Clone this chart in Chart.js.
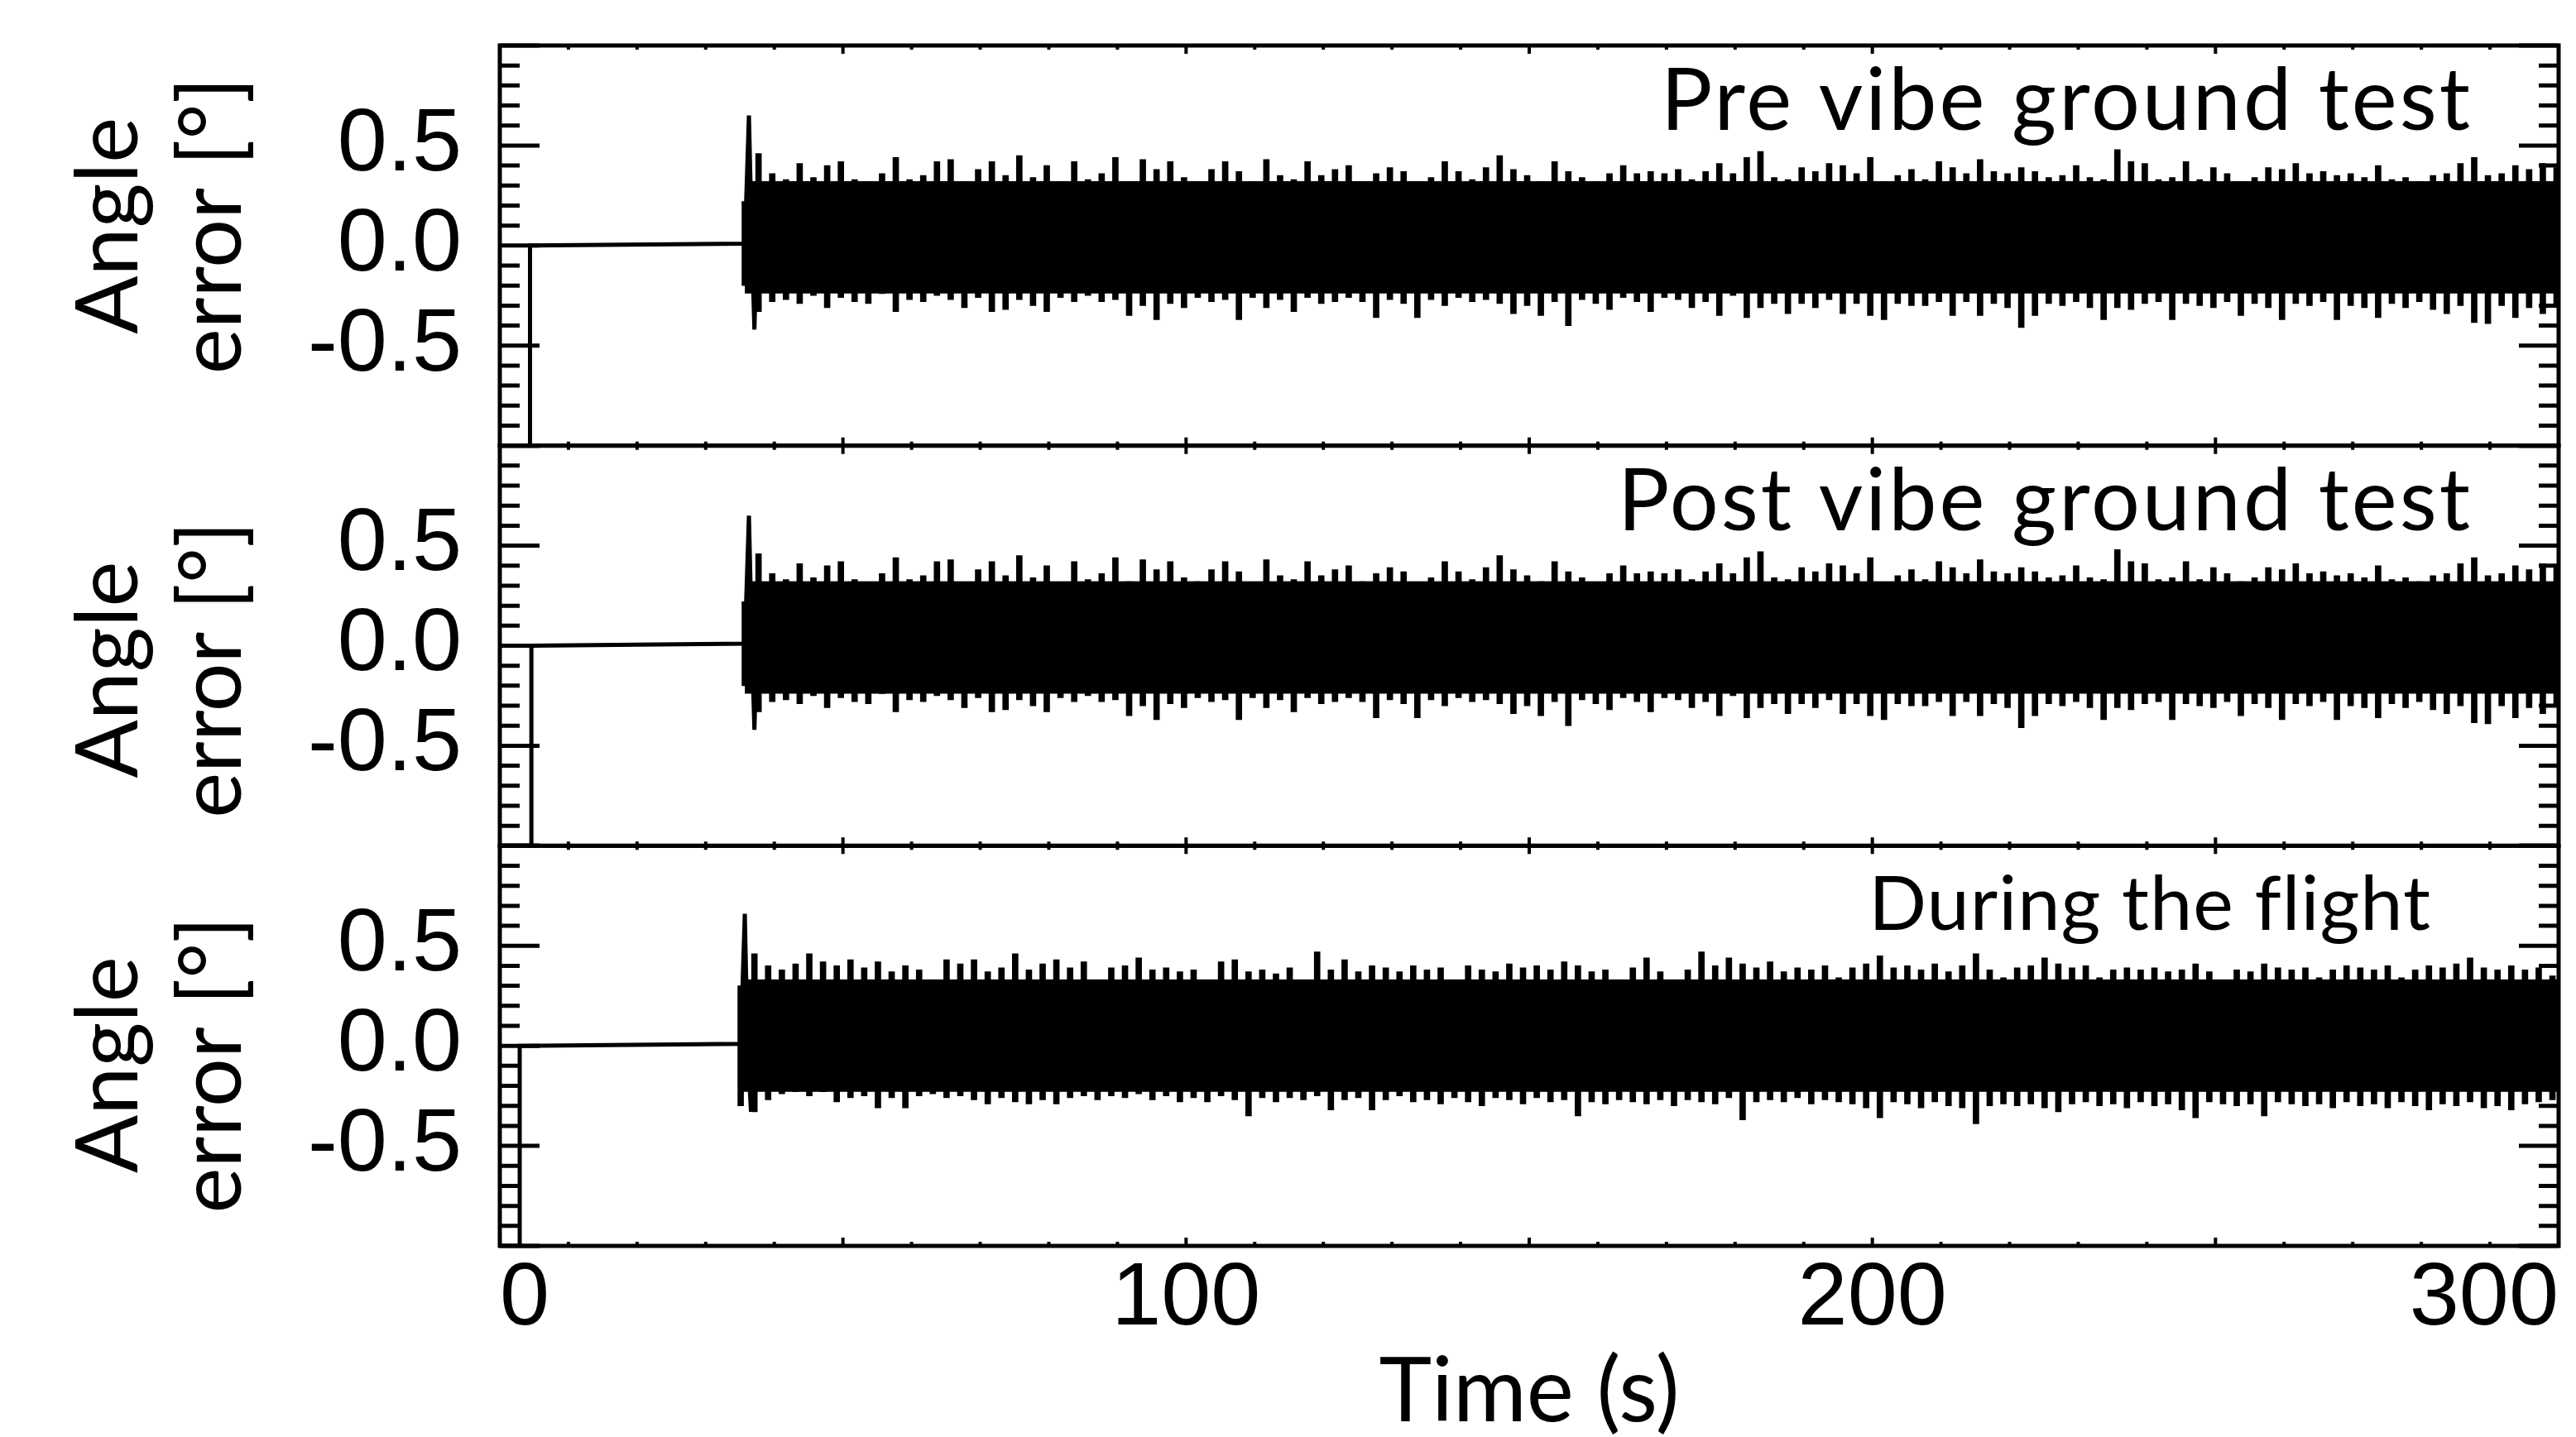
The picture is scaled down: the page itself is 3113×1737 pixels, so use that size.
<!DOCTYPE html>
<html lang="en">
<head>
<meta charset="UTF-8">
<title>Angle error</title>
<script src="https://cdn.jsdelivr.net/npm/chart.js@4.4.1/dist/chart.umd.min.js"></script>
<style>
    body { margin: 0; background: #fff; }
    canvas { display: block; }
</style>
</head>
<body>
<canvas id="angleChart" width="3113" height="1737"></canvas>
<script>
    // ---- data ----
    const panelNames = ['Pre vibe ground test', 'Post vibe ground test', 'During the flight'];
    const xTickLabels = [0, 100, 200, 300];
    const yTickLabels = [-0.5, 0.0, 0.5];
    const yTitleLines = ['Angle', 'error [°]'];

    // reset step, flat part and the first big swing of each run (s, deg)
    const preLineT = [0, 4.4, 4.4, 35.7, 36.3, 36.7, 37.1, 37.5];
    const preLineV = [-1, -1, 0, 0.01, 0.65, 0.05, -0.42, 0.1];
    const postLineT = [0, 4.6, 4.6, 35.7, 36.3, 36.7, 37.1, 37.5];
    const postLineV = [-1, -1, 0, 0.01, 0.65, 0.05, -0.42, 0.1];
    const flightLineT = [0, 2.9, 2.9, 35.1, 35.7, 36.1, 36.6, 37.0];
    const flightLineV = [-1, -1, 0, 0.01, 0.66, 0.0, -0.33, 0.1];

    // solid part of the noise band [low, high]
    const preCore = [-0.24, 0.32];
    const postCore = [-0.24, 0.32];
    const flightCore = [-0.23, 0.33];

    // noise peaks, one max / min per 2 s bin
    const binStep = 2;
    const preStart = 35.7, postStart = 35.7, flightStart = 35.1;

    const preUpper = [
        0.22, 0.46, 0.36, 0.33, 0.41, 0.34, 0.40, 0.42, 0.33, 0.30,
        0.36, 0.44, 0.33, 0.35, 0.42, 0.43, 0.31, 0.38, 0.42, 0.35,
        0.45, 0.34, 0.40, 0.31, 0.42, 0.33, 0.36, 0.44, 0.32, 0.43,
        0.38, 0.42, 0.34, 0.32, 0.38, 0.42, 0.37, 0.30, 0.43, 0.35,
        0.33, 0.42, 0.35, 0.38, 0.40, 0.32, 0.36, 0.39, 0.37, 0.31,
        0.34, 0.42, 0.37, 0.33, 0.39, 0.45, 0.38, 0.35, 0.32, 0.42,
        0.37, 0.34, 0.30, 0.36, 0.40, 0.36, 0.37, 0.36, 0.38, 0.33,
        0.37, 0.41, 0.36, 0.44, 0.47, 0.34, 0.33, 0.39, 0.37, 0.41,
        0.40, 0.36, 0.44, 0.31, 0.35, 0.38, 0.33, 0.42, 0.39, 0.36,
        0.43, 0.37, 0.36, 0.39, 0.37, 0.34, 0.35, 0.40, 0.34, 0.33,
        0.48, 0.42, 0.41, 0.33, 0.34, 0.42, 0.33, 0.39, 0.36, 0.32,
        0.34, 0.39, 0.38, 0.41, 0.36, 0.37, 0.35, 0.36, 0.34, 0.40,
        0.33, 0.34, 0.32, 0.35, 0.36, 0.41, 0.44, 0.35, 0.36, 0.40,
        0.38, 0.41, 0.39
    ];
    const preLower = [
        -0.20, -0.33, -0.28, -0.27, -0.29, -0.25, -0.31, -0.26, -0.28, -0.29,
        -0.24, -0.33, -0.27, -0.28, -0.25, -0.27, -0.31, -0.26, -0.33, -0.32,
        -0.27, -0.30, -0.33, -0.26, -0.28, -0.25, -0.28, -0.27, -0.35, -0.30,
        -0.37, -0.29, -0.31, -0.26, -0.28, -0.27, -0.37, -0.26, -0.31, -0.27,
        -0.33, -0.26, -0.29, -0.28, -0.26, -0.28, -0.36, -0.27, -0.29, -0.36,
        -0.27, -0.30, -0.26, -0.28, -0.27, -0.29, -0.34, -0.30, -0.35, -0.28,
        -0.40, -0.27, -0.29, -0.32, -0.26, -0.28, -0.33, -0.26, -0.27, -0.31,
        -0.28, -0.35, -0.25, -0.36, -0.31, -0.29, -0.34, -0.29, -0.31, -0.27,
        -0.34, -0.29, -0.35, -0.37, -0.29, -0.30, -0.30, -0.28, -0.35, -0.28,
        -0.35, -0.29, -0.31, -0.41, -0.35, -0.29, -0.30, -0.28, -0.31, -0.37,
        -0.31, -0.32, -0.29, -0.28, -0.37, -0.29, -0.30, -0.31, -0.28, -0.35,
        -0.29, -0.31, -0.37, -0.29, -0.30, -0.28, -0.37, -0.30, -0.31, -0.36,
        -0.29, -0.31, -0.28, -0.32, -0.34, -0.30, -0.385, -0.39, -0.30, -0.36,
        -0.31, -0.34, -0.30
    ];
    // the post vibe trace in the figure is the same shape as the pre vibe one
    const postUpper = preUpper.slice();
    const postLower = preLower.slice();

    const flightUpper = [
        0.30, 0.46, 0.40, 0.38, 0.41, 0.46, 0.42, 0.40, 0.43, 0.39,
        0.42, 0.37, 0.40, 0.38, 0.33, 0.43, 0.41, 0.43, 0.37, 0.39,
        0.46, 0.38, 0.41, 0.43, 0.39, 0.42, 0.33, 0.39, 0.40, 0.44,
        0.38, 0.39, 0.37, 0.38, 0.33, 0.42, 0.43, 0.37, 0.38, 0.36,
        0.39, 0.32, 0.47, 0.38, 0.43, 0.37, 0.40, 0.39, 0.37, 0.40,
        0.38, 0.39, 0.33, 0.40, 0.38, 0.37, 0.41, 0.39, 0.40, 0.38,
        0.42, 0.40, 0.37, 0.38, 0.33, 0.39, 0.44, 0.37, 0.33, 0.38,
        0.47, 0.40, 0.44, 0.41, 0.39, 0.42, 0.37, 0.39, 0.38, 0.40,
        0.34, 0.39, 0.41, 0.45, 0.39, 0.40, 0.38, 0.41, 0.37, 0.40,
        0.46, 0.38, 0.34, 0.39, 0.40, 0.44, 0.41, 0.39, 0.40, 0.34,
        0.38, 0.39, 0.38, 0.39, 0.37, 0.38, 0.41, 0.37, 0.33, 0.38,
        0.37, 0.41, 0.39, 0.38, 0.39, 0.34, 0.38, 0.40, 0.39, 0.38,
        0.40, 0.34, 0.38, 0.40, 0.39, 0.41, 0.44, 0.39, 0.38, 0.40,
        0.38, 0.39, 0.35
    ];
    const flightLower = [
        -0.30, -0.33, -0.27, -0.24, -0.23, -0.25, -0.23, -0.28, -0.26, -0.25,
        -0.31, -0.26, -0.31, -0.25, -0.24, -0.26, -0.25, -0.27, -0.29, -0.26,
        -0.28, -0.29, -0.27, -0.29, -0.26, -0.25, -0.27, -0.25, -0.26, -0.24,
        -0.27, -0.25, -0.28, -0.26, -0.28, -0.25, -0.27, -0.35, -0.26, -0.28,
        -0.26, -0.27, -0.25, -0.32, -0.27, -0.26, -0.32, -0.27, -0.25, -0.28,
        -0.27, -0.29, -0.26, -0.28, -0.30, -0.26, -0.27, -0.29, -0.26, -0.28,
        -0.27, -0.35, -0.28, -0.29, -0.27, -0.28, -0.29, -0.27, -0.30, -0.27,
        -0.28, -0.29, -0.26, -0.37, -0.28, -0.27, -0.28, -0.26, -0.29, -0.27,
        -0.28, -0.29, -0.31, -0.36, -0.28, -0.29, -0.31, -0.28, -0.30, -0.31,
        -0.39, -0.30, -0.29, -0.30, -0.29, -0.31, -0.33, -0.29, -0.28, -0.30,
        -0.29, -0.31, -0.28, -0.30, -0.29, -0.32, -0.36, -0.28, -0.29, -0.30,
        -0.29, -0.35, -0.28, -0.29, -0.30, -0.29, -0.31, -0.28, -0.30, -0.29,
        -0.31, -0.28, -0.30, -0.32, -0.29, -0.30, -0.28, -0.31, -0.30, -0.32,
        -0.29, -0.28, -0.27
    ];

    // ---- styling ----
    const tickFont = 'Liberation Sans';
    const textFont = 'Lato';
    const axisIds = ['yPre', 'yPost', 'yFlight'];
    const nameSize = [104, 104, 92];        // panel name font size
    const nameInset = [104, 104, 154];      // panel name, px in from right edge
    const titleShift = [-24, 29, 23];       // y title, px from panel centre

    function linePoints(ts, vs) {
        return ts.map((t, i) => ({ x: t, y: vs[i] }));
    }
    function peakPoints(start, upper, lower) {
        return upper.map((v, i) => ({ x: start + i * binStep, y: [lower[i], v] }));
    }
    function panelSets(axis, lineT, lineV, core, start, upper, lower) {
        return [
            { type: 'line', yAxisID: axis, data: linePoints(lineT, lineV),
              borderColor: '#000', borderWidth: 5, pointRadius: 0, fill: false },
            { type: 'line', yAxisID: axis,
              data: [{ x: start, y: core[1] }, { x: 300, y: core[1] }],
              borderColor: '#000', borderWidth: 1, pointRadius: 0,
              backgroundColor: '#000', fill: { value: core[0] } },
            { type: 'bar', yAxisID: axis, data: peakPoints(start, upper, lower),
              backgroundColor: '#000', borderWidth: 0, barThickness: 7, grouped: false }
        ];
    }

    const datasets = [].concat(
        panelSets('yPre', preLineT, preLineV, preCore, preStart, preUpper, preLower),
        panelSets('yPost', postLineT, postLineV, postCore, postStart, postUpper, postLower),
        panelSets('yFlight', flightLineT, flightLineV, flightCore, flightStart, flightUpper, flightLower)
    );

    // frame, inward ticks on all four sides, panel names and y titles
    const panelFrame = {
        id: 'panelFrame',
        afterDraw(chart) {
            const { ctx, chartArea: { left, right } } = chart;
            const xs = chart.scales.x;
            ctx.save();
            ctx.strokeStyle = '#000';
            ctx.fillStyle = '#000';
            axisIds.forEach((id, p) => {
                const ys = chart.scales[id];
                const top = ys.top, bottom = ys.bottom;
                ctx.lineWidth = 5;
                ctx.strokeRect(left, top, right - left, bottom - top);
                for (let k = -10; k <= 10; k++) {
                    const py = ys.getPixelForValue(k / 10);
                    const len = k % 5 === 0 ? 48 : 24;
                    ctx.beginPath();
                    ctx.moveTo(left, py); ctx.lineTo(left + len, py);
                    ctx.moveTo(right, py); ctx.lineTo(right - len, py);
                    ctx.stroke();
                }
                ctx.lineWidth = 4;
                for (let t = 0; t <= 300; t += 10) {
                    const px = xs.getPixelForValue(t);
                    const len = t % 50 === 0 ? 10 : 5;
                    ctx.beginPath();
                    ctx.moveTo(px, top); ctx.lineTo(px, top + len);
                    ctx.moveTo(px, bottom); ctx.lineTo(px, bottom - len);
                    ctx.stroke();
                }

                ctx.save();
                ctx.font = nameSize[p] + 'px ' + textFont;
                ctx.letterSpacing = p < 2 ? '3px' : '1px';
                ctx.textAlign = 'right';
                ctx.textBaseline = 'alphabetic';
                ctx.fillText(panelNames[p], right - nameInset[p], top + 102);
                ctx.restore();

                ctx.save();
                ctx.font = '104px ' + textFont;
                ctx.textAlign = 'center';
                ctx.textBaseline = 'middle';
                ctx.translate(0, (top + bottom) / 2 + titleShift[p]);
                ctx.rotate(-Math.PI / 2);
                ctx.fillText(yTitleLines[0], 0, 132);
                ctx.fillText(yTitleLines[1], 0, 257);
                ctx.restore();
            });
            ctx.restore();
        }
    };

    function yScale() {
        return {
            type: 'linear',
            position: 'left',
            stack: 'panels',
            stackWeight: 1,
            min: -1,
            max: 1,
            grid: { display: false, drawTicks: false },
            border: { display: false },
            ticks: {
                stepSize: 0.5,
                autoSkip: false,
                padding: 46,
                color: '#000',
                font: { family: tickFont, size: 108 },
                callback: v => yTickLabels.some(l => Math.abs(l - v) < 1e-6) ? v.toFixed(1) : ''
            },
            afterFit: s => { s.width = 604; s.paddingTop = 0; s.paddingBottom = 0; }
        };
    }

    new Chart(document.getElementById('angleChart'), {
        type: 'line',
        data: { datasets: datasets },
        options: {
            responsive: false,
            animation: false,
            events: [],
            layout: { padding: { top: 55, right: 21, left: 0, bottom: 0 } },
            plugins: { legend: { display: false }, tooltip: { enabled: false } },
            scales: {
                x: {
                    type: 'linear',
                    position: 'bottom',
                    min: 0,
                    max: 300,
                    offset: false,
                    grid: { display: false, drawTicks: false, offset: false },
                    border: { display: false },
                    ticks: {
                        stepSize: 50,
                        autoSkip: false,
                        maxRotation: 0,
                        align: 'inner',
                        padding: 0,
                        color: '#000',
                        font: { family: tickFont, size: 108 },
                        callback: v => xTickLabels.includes(v) ? String(v) : ''
                    },
                    title: {
                        display: true,
                        text: 'Time (s)',
                        color: '#000',
                        font: { family: textFont, size: 108, lineHeight: 1 },
                        padding: { top: 0, bottom: 0 }
                    },
                    afterFit: s => { s.height = 231; s.paddingLeft = 0; s.paddingRight = 0; }
                },
                yFlight: yScale(),
                yPost: yScale(),
                yPre: yScale()
            }
        },
        plugins: [panelFrame]
    });
</script>
</body>
</html>
